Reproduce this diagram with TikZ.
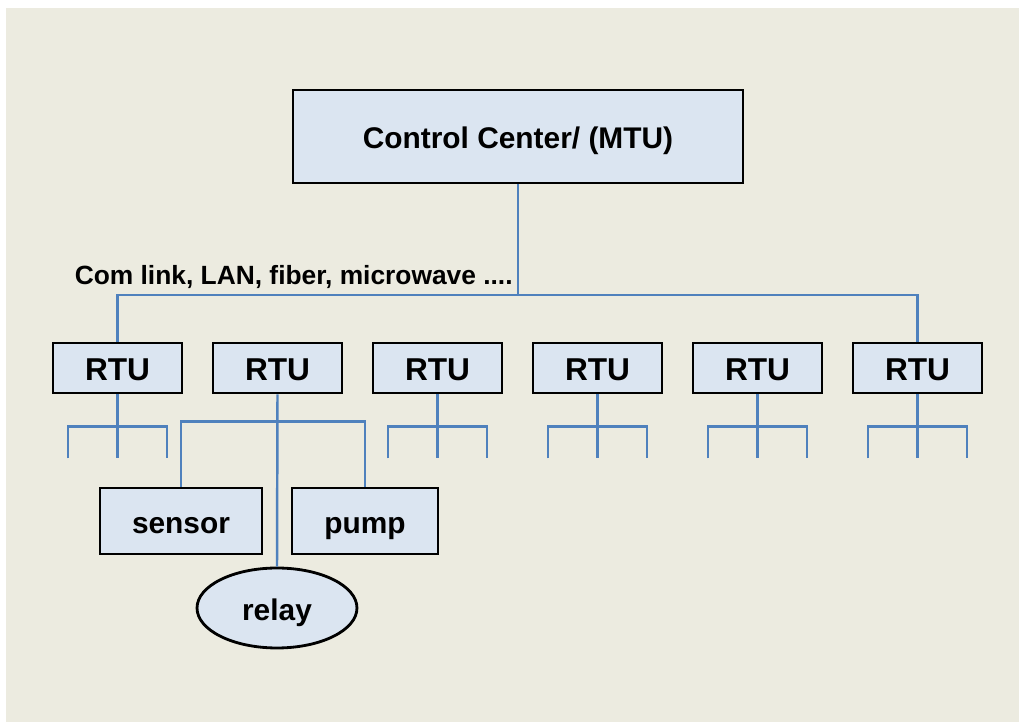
\documentclass[tikz,border=0pt]{standalone}
\usepackage{fontspec}
\setmainfont{Liberation Sans}
\usetikzlibrary{shapes.geometric}

\definecolor{pagebg}{HTML}{ECEBE0}
\definecolor{boxfill}{HTML}{DBE5F1}
\definecolor{linkblue}{HTML}{4F81BD}

\tikzset{
    unit/.style={draw=black, line width=1.6pt, fill=boxfill, inner sep=0pt,
        text height=14pt, text depth=0pt,
        font=\fontsize{17}{20}\selectfont\bfseries},
    link/.style={draw=linkblue, line width=1.4pt}
}

\begin{document}
\begin{tikzpicture}[x=0.02cm, y=-0.02cm]
    % Page and background
    \useasboundingbox (0,0) rectangle (1019,722);
    \fill[white] (0,0) rectangle (1019,722);
    \fill[pagebg] (6,8) rectangle (1019,722);

    % Control center
    \node[unit, minimum width=9cm, minimum height=1.86cm] (mtu) at (518,136.5) {Control Center/ (MTU)};

    % Row of RTUs
    \foreach \i in {1,...,6}
        \node[unit, minimum width=2.58cm, minimum height=1cm, font=\fontsize{18}{20}\selectfont\bfseries]
            (rtu\i) at ({-42.5+160*\i},368) {RTU};

    % Field devices under the second RTU
    \node[unit, minimum width=3.24cm, minimum height=1.32cm] (sensor) at (181,521) {sensor};
    \node[unit, minimum width=2.92cm, minimum height=1.32cm] (pump) at (365,521) {pump};
    \node[unit, ellipse, minimum width=3.2cm, minimum height=1.6cm] (relay) at (277,608) {relay};

    % Communication bus
    \coordinate (bus) at (0,295);
    \draw[link] (mtu.south) -- (mtu.south |- bus);
    \draw[link] (rtu1.north) -- (rtu1.north |- bus) -- (rtu6.north |- bus) -- (rtu6.north);
    \node[anchor=base east, inner sep=0pt, font=\fontsize{15}{18}\selectfont\bfseries] (medium) at (513,285)
        {Com link, LAN, fiber, microwave ....};

    % Branches below the RTUs
    \foreach \i in {1,3,4,5,6} {
        \draw[link] (rtu\i.south) -- ++(0,64);
        \draw[link] (rtu\i.south) ++(-49.5,64) |- ++(99,-32) -- ++(0,32);
    }

    % Devices of the second RTU
    \draw[link] (rtu2.south) -- (relay.north);
    \draw[link] (sensor.north) -- ++(0,-65) -| (pump.north);
\end{tikzpicture}
\end{document}
